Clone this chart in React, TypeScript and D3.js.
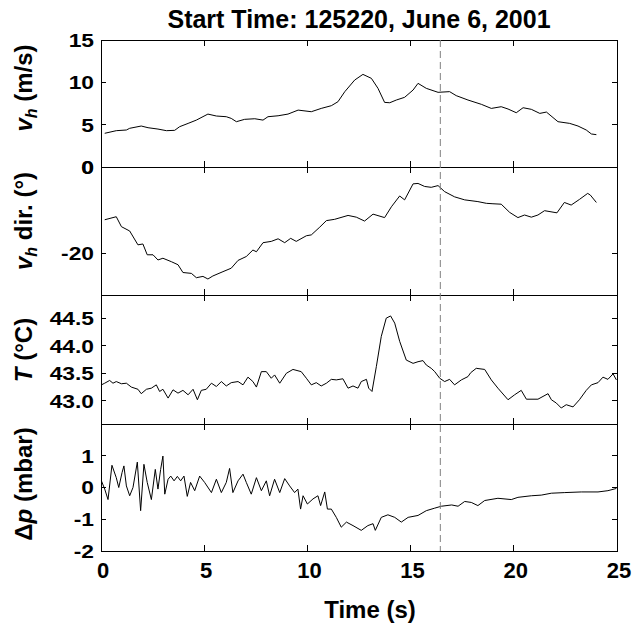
import React from 'react';
import * as d3 from 'd3';

// page size and plot edges
const W = 635, H = 628;
const X0 = 101, X1 = 617;

const titleText = 'Start Time: 125220, June 6, 2001';
const timeTicks = [0, 5, 10, 15, 20, 25];
const markerTime = 16.44;

const speedTicks = [0, 5, 10, 15];
const dirTicks = [-20, 0];
const tempTicks = [43.0, 43.5, 44.0, 44.5];
const presTicks = [-2, -1, 0, 1];

// horizontal wind speed (m/s)
const speed: [number, number][] = [
  [0.18, 3.98], [0.74, 4.29], [1.23, 4.37], [1.39, 4.57], [1.95, 4.84], [2.28, 4.64],
  [2.76, 4.48], [3.17, 4.29], [3.57, 4.33], [3.81, 4.76], [4.22, 5.15], [4.62, 5.54],
  [5.18, 6.25], [5.59, 6.02], [6.07, 5.94], [6.31, 5.74], [6.56, 5.35], [6.96, 5.63],
  [7.45, 5.7], [7.85, 5.54], [8.09, 5.94], [8.58, 6.05], [9.06, 6.25], [9.55, 6.72],
  [10.19, 6.53], [10.67, 6.92], [11.16, 7.24], [11.48, 7.71], [11.81, 8.89], [12.29, 10.27],
  [12.69, 10.94], [13.1, 10.47], [13.42, 9.29], [13.74, 7.63], [13.99, 7.59], [14.31, 7.91],
  [14.71, 8.23], [15.12, 9.09], [15.36, 9.88], [15.76, 9.29], [16.33, 8.82], [16.89, 8.9],
  [17.21, 8.43], [17.78, 7.91], [18.43, 7.4], [18.91, 6.92], [19.39, 7.12], [19.72, 6.85],
  [20.12, 6.41], [20.45, 7.0], [20.85, 6.81], [21.26, 6.33], [21.58, 6.49], [22.14, 5.35],
  [22.71, 5.15], [23.11, 4.84], [23.51, 4.37], [23.76, 3.9], [24.0, 3.82],
];

// wind direction (deg)
const direction: [number, number][] = [
  [0.18, -12.2], [0.74, -11.5], [0.99, -13.8], [1.39, -14.8], [1.79, -18.0], [2.03, -17.8],
  [2.24, -20.3], [2.52, -20.3], [2.76, -21.5], [3.0, -21.1], [3.41, -21.9], [3.73, -22.6],
  [3.97, -24.4], [4.38, -24.6], [4.62, -25.6], [4.94, -25.3], [5.18, -25.9], [5.42, -25.2],
  [5.91, -24.2], [6.31, -23.4], [6.64, -21.6], [7.04, -20.7], [7.36, -19.2], [7.53, -19.6],
  [7.85, -17.5], [8.25, -17.2], [8.58, -16.6], [8.9, -17.5], [9.19, -16.5], [9.46, -17.2],
  [9.95, -15.9], [10.19, -15.7], [10.6, -13.9], [10.92, -12.4], [11.32, -12.1], [11.97, -11.2],
  [12.37, -11.6], [12.77, -12.5], [13.18, -10.9], [13.74, -11.7], [14.07, -9.2], [14.47, -6.7],
  [14.71, -7.6], [15.12, -3.9], [15.36, -3.8], [15.68, -4.5], [16.0, -4.7], [16.33, -4.3],
  [16.65, -5.7], [17.13, -6.9], [17.62, -7.6], [18.26, -8.0], [18.67, -8.4], [18.99, -8.5],
  [19.39, -8.6], [19.8, -10.5], [20.2, -11.7], [20.52, -11.1], [20.85, -11.6], [21.17, -11.1],
  [21.49, -10.1], [22.09, -10.6], [22.45, -8.2], [22.78, -8.8], [23.18, -7.5], [23.58, -6.1],
  [23.71, -6.5], [24.0, -8.2],
];

// temperature (C)
const temperature: [number, number][] = [
  [0.02, 43.29], [0.18, 43.32], [0.42, 43.37], [0.58, 43.32], [0.74, 43.35], [0.99, 43.31],
  [1.23, 43.32], [1.47, 43.25], [1.79, 43.21], [1.95, 43.13], [2.2, 43.21], [2.44, 43.23],
  [2.68, 43.29], [2.84, 43.17], [3.0, 43.21], [3.25, 43.05], [3.49, 43.2], [3.73, 43.14],
  [3.97, 43.19], [4.22, 43.11], [4.46, 43.21], [4.67, 43.02], [4.86, 43.19], [5.1, 43.21],
  [5.35, 43.32], [5.59, 43.26], [5.83, 43.35], [6.07, 43.27], [6.31, 43.33], [6.64, 43.35],
  [6.88, 43.29], [7.12, 43.43], [7.36, 43.35], [7.53, 43.25], [7.77, 43.53], [8.01, 43.53],
  [8.25, 43.41], [8.41, 43.47], [8.66, 43.32], [8.98, 43.5], [9.3, 43.57], [9.7, 43.53],
  [9.95, 43.41], [10.19, 43.29], [10.43, 43.33], [10.67, 43.27], [10.92, 43.32], [11.16, 43.39],
  [11.4, 43.38], [11.72, 43.4], [11.97, 43.23], [12.21, 43.27], [12.45, 43.23], [12.61, 43.35],
  [12.86, 43.39], [12.97, 43.23], [13.13, 43.17], [13.34, 43.62], [13.58, 44.17], [13.82, 44.5],
  [14.03, 44.54], [14.23, 44.41], [14.47, 44.08], [14.79, 43.74], [15.12, 43.68], [15.36, 43.71],
  [15.6, 43.73], [15.76, 43.65], [16.0, 43.59], [16.17, 43.53], [16.41, 43.41], [16.65, 43.35],
  [16.89, 43.39], [17.13, 43.29], [17.46, 43.38], [17.78, 43.44], [17.91, 43.51], [18.18, 43.59],
  [18.59, 43.57], [18.91, 43.38], [19.23, 43.23], [19.72, 43.02], [20.04, 43.11], [20.36, 43.19],
  [20.61, 43.03], [21.17, 43.03], [21.66, 43.13], [21.82, 43.02], [22.06, 42.96], [22.3, 42.87],
  [22.54, 42.93], [22.87, 42.89], [23.18, 43.02], [23.51, 43.19], [23.76, 43.29], [24.08, 43.33],
  [24.32, 43.43], [24.56, 43.39], [24.81, 43.49], [24.97, 43.38],
];

// pressure perturbation (mbar)
const pressure: [number, number][] = [
  [0.02, 0.21], [0.18, -0.05], [0.34, -0.38], [0.53, 0.7], [0.74, 0.31], [0.86, 0.0],
  [1.02, 0.47], [1.11, 0.68], [1.23, 0.05], [1.39, -0.26], [1.55, 0.0], [1.76, 0.8],
  [1.92, -0.73], [2.08, 0.73], [2.24, 0.16], [2.44, -0.38], [2.63, 0.57], [2.76, -0.05],
  [2.89, 0.57], [3.0, 0.99], [3.09, -0.21], [3.25, 0.26], [3.38, 0.36], [3.54, 0.21],
  [3.7, 0.35], [3.86, 0.21], [4.02, 0.36], [4.18, -0.28], [4.34, 0.16], [4.54, -0.1],
  [4.78, 0.36], [5.02, 0.16], [5.35, -0.16], [5.59, 0.26], [5.83, -0.16], [6.07, 0.16],
  [6.23, 0.6], [6.39, -0.16], [6.64, 0.21], [6.88, 0.42], [7.04, 0.16], [7.28, -0.21],
  [7.53, 0.31], [7.77, -0.1], [8.01, 0.21], [8.17, -0.26], [8.41, 0.26], [8.66, -0.16],
  [8.9, 0.28], [9.14, 0.05], [9.38, -0.16], [9.54, -0.05], [9.67, -0.68], [9.79, -0.26],
  [10.0, -0.52], [10.27, -0.36], [10.51, -0.26], [10.64, -0.57], [10.84, -0.14], [10.97, -0.68],
  [11.16, -0.68], [11.4, -0.94], [11.64, -1.25], [11.89, -1.09], [12.21, -1.2], [12.61, -1.35],
  [12.93, -1.2], [13.18, -1.14], [13.29, -1.35], [13.58, -0.94], [13.9, -0.86], [14.23, -0.94],
  [14.55, -1.09], [14.88, -0.94], [15.36, -0.88], [15.76, -0.73], [16.17, -0.65], [16.49, -0.59],
  [16.99, -0.55], [17.3, -0.59], [17.62, -0.44], [17.94, -0.47], [18.26, -0.57], [18.59, -0.41],
  [19.23, -0.34], [19.88, -0.38], [20.2, -0.31], [20.85, -0.26], [21.33, -0.24], [21.82, -0.18],
  [22.47, -0.16], [23.27, -0.14], [24.08, -0.14], [24.56, -0.1], [24.97, -0.03],
];

const FONT = '"Liberation Sans", Arial, Helvetica, sans-serif';

export default function App() {
  const x = d3.scaleLinear().domain([0, 25]).range([X0, X1]);

  const panels = [
    { top: 40, bottom: 167, domain: [0, 15], ticks: speedTicks, fmt: (d: number) => String(d), data: speed, labelY: 88, label: 'speed' },
    { top: 167, bottom: 295, domain: [-29.6, 0], ticks: dirTicks, fmt: (d: number) => String(d), data: direction, labelY: 221, label: 'dir' },
    { top: 295, bottom: 424, domain: [42.58, 44.92], ticks: tempTicks, fmt: (d: number) => d.toFixed(1), data: temperature, labelY: 350, label: 'temp' },
    { top: 424, bottom: 551, domain: [-2, 2], ticks: presTicks, fmt: (d: number) => String(d), data: pressure, labelY: 484, label: 'pres' },
  ];

  const renderLabel = (kind: string) => {
    if (kind === 'speed') return (<>
      <tspan fontStyle="italic">v</tspan>
      <tspan fontStyle="italic" fontSize={16} dy={5}>h</tspan>
      <tspan dy={-5}> (m/s)</tspan>
    </>);
    if (kind === 'dir') return (<>
      <tspan fontStyle="italic">v</tspan>
      <tspan fontStyle="italic" fontSize={16} dy={5}>h</tspan>
      <tspan dy={-5}> dir. (°)</tspan>
    </>);
    if (kind === 'temp') return (<>
      <tspan fontStyle="italic">T</tspan>
      <tspan> (°C)</tspan>
    </>);
    return (<>
      <tspan>Δ</tspan>
      <tspan fontStyle="italic">p</tspan>
      <tspan> (mbar)</tspan>
    </>);
  };

  const last = panels[panels.length - 1];

  return (
    <svg width={W} height={H} style={{ position: 'absolute', left: 0, top: 0, background: '#fff' }}
      fontFamily={FONT} fontWeight="bold">
      <rect width={W} height={H} fill="#fff" />
      <text x={359} y={28} textAnchor="middle" fontSize={25}>{titleText}</text>

      {panels.map((p, i) => {
        const y = d3.scaleLinear().domain(p.domain).range([p.bottom, p.top]);
        const line = d3.line<[number, number]>().x(d => x(d[0])).y(d => y(d[1]));
        return (
          <g key={i}>
            <path d={line(p.data) || ''} fill="none" stroke="#000" strokeWidth={1} />
            <rect x={X0} y={p.top} width={X1 - X0} height={p.bottom - p.top} fill="none"
              stroke="#000" strokeWidth={1} shapeRendering="crispEdges" />
            {timeTicks.slice(1, -1).map(t => (
              <g key={t} stroke="#000" shapeRendering="crispEdges">
                <line x1={x(t)} x2={x(t)} y1={p.top} y2={p.top + 6} />
                <line x1={x(t)} x2={x(t)} y1={p.bottom} y2={p.bottom - 6} />
              </g>
            ))}
            {p.ticks.map(v => (
              <g key={v}>
                <line x1={X0} x2={X0 + 5} y1={y(v)} y2={y(v)} stroke="#000" shapeRendering="crispEdges" />
                <line x1={X1} x2={X1 - 5} y1={y(v)} y2={y(v)} stroke="#000" shapeRendering="crispEdges" />
                <text transform={`translate(94,${y(v)}) scale(1.2,1)`} dy="0.36em" textAnchor="end" fontSize={19}>
                  {p.fmt(v)}
                </text>
              </g>
            ))}
            <text transform={`translate(32,${p.labelY}) rotate(-90)`} textAnchor="middle" fontSize={24}>
              {renderLabel(p.label)}
            </text>
          </g>
        );
      })}

      <line x1={x(markerTime)} x2={x(markerTime)} y1={panels[0].top} y2={last.bottom}
        stroke="#808080" strokeWidth={1} strokeDasharray="7,4" />

      {timeTicks.map(t => (
        <text key={t} x={x(t) + 2} y={578} textAnchor="middle" fontSize={22}>{t}</text>
      ))}
      <text x={370} y={618} textAnchor="middle" fontSize={24}>Time (s)</text>
    </svg>
  );
}
